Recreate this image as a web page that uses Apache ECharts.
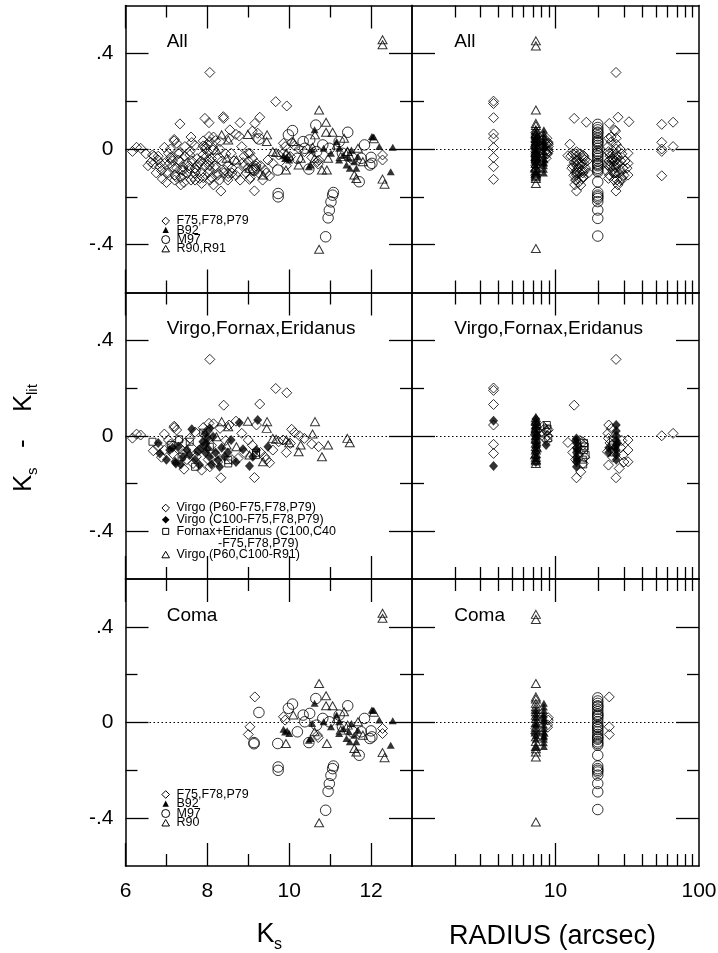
<!DOCTYPE html>
<html>
<head>
<meta charset="utf-8">
<script src="https://cdn.jsdelivr.net/npm/echarts@6/dist/echarts.min.js"></script>
<style>
  html, body { margin: 0; padding: 0; background: #fff; }
  #chart { width: 718px; height: 953px; }
</style>
</head>
<body>
<div id="chart"></div>
<script>
// ---------------------------------------------------------------
// Photometry residuals K_s - K_lit, against K_s (left column) and
// against the literature aperture radius in arcsec (right column).
// ---------------------------------------------------------------

// ---- Virgo / Fornax / Eridanus, residual vs K_s ----
const vfeP60Diamonds = [
  [6.17,-0.010],[6.27,0.007],[6.37,0.003],[6.68,-0.063],[6.80,-0.046],[6.88,-0.090],[6.95,0.007],
  [6.95,-0.060],[7.05,-0.018],[7.10,-0.035],[7.15,-0.075],[7.19,0.040],[7.19,0.034],[7.25,0.024],
  [7.30,-0.020],[7.33,-0.053],[7.40,-0.075],[7.43,-0.140],[7.45,-0.030],[7.50,-0.100],[7.57,-0.011],
  [7.62,-0.050],[7.65,-0.116],[7.70,0.015],[7.73,-0.088],[7.80,-0.060],[7.86,-0.144],[7.90,0.034],
  [7.95,0.000],[8.00,0.020],[8.02,-0.100],[8.04,0.052],[8.06,0.320],[8.06,-0.130],[8.10,-0.040],
  [8.15,0.050],[8.20,-0.080],[8.25,-0.110],[8.31,0.031],[8.33,-0.176],[8.40,0.128],[8.45,-0.020],
  [8.53,0.045],[8.60,-0.100],[8.70,0.061],[8.75,-0.095],[8.84,0.010],[8.90,-0.070],[9.00,-0.018],
  [9.10,-0.040],[9.15,-0.175],[9.20,0.045],[9.28,0.133],[9.30,-0.070],[9.40,-0.088],[9.44,-0.100],
  [9.52,-0.113],[9.60,-0.060],[9.67,0.198],[9.74,-0.025],[9.85,-0.018],[9.93,-0.070],[9.94,0.180],
  [10.03,-0.032],[10.06,0.027],[10.13,0.013],[10.25,0.000],[10.37,-0.011],[10.55,-0.035],[10.72,-0.046]
];
const vfeC100Diamonds = [
  [6.80,-0.030],[6.84,-0.074],[7.08,-0.060],[7.21,-0.109],[7.23,-0.116],[7.29,-0.046],[7.40,-0.090],
  [7.56,-0.081],[7.62,0.027],[7.76,-0.067],[7.81,-0.123],[7.89,-0.025],[7.95,-0.070],[7.97,-0.032],
  [8.00,-0.010],[8.01,-0.053],[8.05,-0.088],[8.06,0.031],[8.10,-0.120],[8.14,-0.004],[8.26,-0.102],
  [8.35,-0.050],[8.42,-0.088],[8.58,-0.018],[8.78,0.054],[8.87,-0.057],[9.03,-0.127],[9.11,-0.088],
  [9.23,0.066],[9.48,-0.046],[7.00,-0.100],[7.15,-0.050],[7.35,-0.120],[7.50,-0.060],[7.70,-0.100],
  [7.85,-0.050],[8.20,-0.070],[8.30,-0.130],[8.50,-0.070],[8.70,-0.110],[9.20,-0.060],[7.95,0.010]
];
const fornaxEridanusSquares = [
  [6.66,-0.025],[7.12,-0.039],[7.31,-0.015],[7.37,-0.088],[7.57,-0.025],[7.70,-0.130],[7.90,0.013],
  [8.06,-0.046],[8.51,-0.102],[8.51,-0.116],[9.19,-0.071],[9.19,-0.081]
];
const vfeR91Triangles = [
  [8.22,-0.004],[8.35,0.059],[8.47,-0.039],[8.51,0.038],[8.71,-0.046],[8.99,0.061],[9.03,-0.081],
  [9.36,-0.109],[9.45,0.031],[9.46,0.059],[9.60,-0.011],[9.68,-0.015],[9.93,-0.018],[10.00,-0.029],
  [10.23,-0.067],[10.28,-0.039],[10.57,0.007],[10.63,0.059],[10.80,-0.088],[10.95,-0.039],
  [11.42,-0.011],[11.48,-0.029]
];

// ---- Coma, residual vs K_s ----
const comaF75Diamonds = [
  [9.00,-0.050],[9.04,-0.018],[9.16,0.107],[9.86,0.024],[9.90,0.010],[10.69,-0.053],[10.71,-0.063],
  [12.28,-0.025],[12.28,-0.046]
];
const comaB92Triangles = [
  [9.86,-0.028],[9.90,-0.040],[9.95,-0.035],[10.00,-0.046],[10.48,-0.074],[10.52,-0.067],[10.56,-0.004],
  [10.62,0.080],[10.84,0.003],[11.02,-0.018],[11.16,0.031],[11.22,0.003],[11.22,-0.046],[11.32,-0.025],
  [11.40,-0.067],[11.46,-0.039],[11.48,-0.081],[11.52,-0.004],[11.59,-0.053],[11.64,-0.081],
  [11.68,-0.032],[12.02,0.052],[12.05,0.050],[12.20,0.010],[12.48,-0.095],[12.53,0.007]
];
const comaM97Circles = [
  [9.14,-0.084],[9.14,-0.089],[9.26,0.042],[9.72,-0.088],[9.73,-0.186],[9.73,-0.200],[9.98,0.059],
  [10.08,0.077],[10.20,-0.039],[10.34,0.031],[10.38,0.003],[10.48,-0.084],[10.50,0.038],[10.65,0.100],
  [10.67,-0.011],[10.82,0.017],[10.89,-0.367],[10.95,-0.288],[10.98,-0.256],[10.98,0.003],
  [11.02,-0.221],[11.06,-0.193],[11.08,-0.182],[11.22,0.031],[11.30,-0.018],[11.43,0.070],
  [11.55,-0.039],[11.71,-0.137],[11.76,-0.039],[11.84,0.017],[11.97,-0.067],[12.00,-0.035],[12.02,-0.060]
];
const comaR90Triangles = [
  [9.92,-0.088],[10.10,0.031],[10.62,-0.039],[10.73,0.163],[10.73,-0.419],[10.90,0.112],[10.90,0.070],
  [10.92,-0.088],[11.06,0.070],[11.16,0.017],[11.26,-0.032],[11.34,0.045],[11.43,-0.011],[11.59,-0.109],
  [11.64,-0.123],[11.68,0.003],[11.80,-0.053],[12.07,0.043],[12.28,0.457],[12.28,0.436],[12.28,-0.126],
  [12.33,-0.147]
];

// ---- galaxies outside the clusters (shown only in the "All" panels) ----
const fieldDiamonds = [
  [7.33,0.105],[7.94,0.128],[8.04,0.110],[8.39,0.135],[8.80,0.110],[6.50,-0.020],[6.62,-0.055],
  [6.75,-0.100],[6.90,-0.125],[7.00,-0.140],[7.20,-0.130],[7.35,-0.150],[7.55,-0.070],[7.75,-0.040],
  [7.85,-0.100],[8.15,-0.150],[8.30,0.000],[8.50,-0.130],[8.65,-0.050],[8.95,-0.100],[9.05,-0.120],
  [9.25,-0.100],[9.35,-0.130],[7.60,0.050],[8.55,0.080],[9.10,0.075],[7.10,0.000],[7.45,0.010],
  [8.20,0.035],[8.90,-0.030],[6.55,-0.070],[6.70,-0.030],[6.85,-0.060],[7.05,-0.100],[7.25,-0.080],
  [7.40,-0.110],[7.60,-0.130],[7.70,-0.080],[7.90,-0.120],[8.05,-0.070],[8.25,-0.040],[8.40,-0.100],
  [8.60,-0.080],[8.80,-0.130],[9.00,-0.080]
];

// ---- the same samples, residual vs aperture radius (arcsec) ----
const vfeP60DiamondsR = [
  [3.7,0.200],[3.7,0.190],[3.7,0.131],[3.7,0.045],[3.7,-0.036],[3.7,-0.074],
  [8.2,0.040],[8.4,0.030],[8.6,0.020],[8.3,0.010],[8.8,0.000],[8.5,-0.010],[8.9,0.025],[8.7,-0.020],
  [12.2,-0.028],[13.5,0.128],[14.0,-0.176],[15.0,-0.151],[15.5,-0.025],[15.6,-0.039],[15.6,-0.116],
  [15.2,-0.060],[14.5,-0.080],[13.8,-0.100],[14.2,-0.050],[16.0,-0.090],[13.2,-0.070],[14.8,-0.020],
  [23.5,0.045],[23.2,0.010],[23.4,-0.011],[23.0,-0.067],[23.4,-0.123],[26.4,-0.176],[27.8,-0.137],
  [26.4,0.320],[24.0,-0.030],[25.0,-0.090],[24.5,0.030],[28.5,-0.050],[29.0,-0.020],[29.5,-0.080],
  [30.0,-0.110],[32.0,-0.018],[32.0,-0.060],[32.0,-0.109],[55,0.000],[66,0.010]
];
const vfeC100DiamondsR = [
  [3.7,0.063],[3.7,-0.127],[8.6,-0.039],[14.0,-0.011],[14.0,-0.030],[14.0,-0.050],[14.0,-0.070],
  [14.0,-0.090],[14.0,-0.110],[14.0,-0.130],[13.8,-0.020],[14.2,-0.060],[14.1,-0.100],[26.5,0.045],
  [26.5,0.020],[26.5,0.000],[26.5,-0.020],[26.5,-0.040],[26.5,-0.060],[26.5,-0.080],[26.5,-0.100],
  [26.0,-0.050],[27.0,-0.030],[23.5,-0.050],[23.5,-0.070],[7.3,0.070],[7.3,0.050],[7.3,0.030],
  [7.3,0.010],[7.3,-0.010],[7.3,-0.030],[7.3,-0.050],[7.3,-0.070],[7.3,-0.090],[7.3,-0.110],
  [7.4,0.000],[7.4,-0.040]
];
const fornaxEridanusSquaresR = [
  [8.8,0.030],[8.9,-0.010],[15.8,-0.030],[15.8,-0.060],[16.2,-0.080],[15.5,-0.100],[25.0,-0.040],
  [25.5,-0.070],[16.0,-0.045],[25.2,-0.020],[8.7,0.045],[15.6,-0.120]
];
const vfeR91TrianglesR = [
  [7.3,0.075],[7.3,0.060],[7.3,0.045],[7.3,0.030],[7.3,0.015],[7.3,0.000],[7.3,-0.015],[7.3,-0.030],
  [7.3,-0.045],[7.3,-0.060],[7.3,-0.075],[7.3,-0.090],[7.3,-0.105],[7.3,-0.116],[7.2,0.020],
  [7.4,-0.050],[7.2,-0.080],[7.4,0.050],[7.3,0.065],[7.3,-0.100],[7.3,-0.010],[7.3,0.035]
];
const comaF75DiamondsR = [
  [23.7,0.107],[23.7,-0.018],[23.7,-0.050],[8.9,0.020],[8.8,-0.010],[8.9,0.010],[8.8,-0.020],
  [7.3,-0.025],[7.3,-0.046]
];
const comaB92TrianglesR = [
  [8.3,0.080],[8.3,0.065],[8.3,0.050],[8.3,0.035],[8.3,0.020],[8.3,0.005],[8.3,-0.010],[8.3,-0.025],
  [8.3,-0.040],[8.3,-0.055],[8.3,-0.070],[8.3,-0.085],[8.3,-0.100],[8.2,0.030],[8.4,-0.045],
  [8.3,0.010],[8.3,-0.060],[7.3,0.050],[7.3,0.020],[7.3,-0.010],[7.3,-0.040],[7.3,-0.070],
  [7.3,-0.100],[7.3,0.000],[7.3,-0.055],[7.3,0.035]
];
const comaM97CirclesR = [
  [19.7,0.103],[19.7,0.080],[19.7,0.066],[19.7,0.045],[19.7,0.030],[19.7,0.003],[19.7,-0.018],
  [19.7,-0.039],[19.7,-0.060],[19.7,-0.081],[19.7,-0.095],[19.7,-0.137],[19.7,-0.182],[19.7,-0.193],
  [19.7,-0.207],[19.7,-0.220],[19.7,-0.255],[19.7,-0.290],[19.7,-0.364],[19.7,0.055],[19.7,0.015],
  [19.7,-0.010],[19.7,-0.030],[19.7,-0.050],[19.7,-0.070],[19.7,0.090],[19.7,0.035],[19.7,-0.020],
  [19.7,-0.088],[19.7,0.025],[19.7,-0.065],[19.7,-0.200],[19.7,0.070]
];
const comaR90TrianglesR = [
  [7.3,0.452],[7.3,0.431],[7.3,0.163],[7.3,0.107],[7.3,0.098],[7.3,0.080],[7.3,0.066],[7.3,0.045],
  [7.3,0.030],[7.3,0.017],[7.3,0.000],[7.3,-0.020],[7.3,-0.040],[7.3,-0.060],[7.3,-0.080],
  [7.3,-0.100],[7.3,-0.123],[7.3,-0.144],[7.3,-0.416],[7.3,-0.110],[7.3,-0.030],[7.3,0.055]
];
const fieldDiamondsR = [
  [16.4,0.112],[27.3,0.133],[32.5,0.114],[55,0.103],[66,0.112],[3.7,0.006],[55,0.028],[55,-0.010],
  [55,-0.112],[13.2,-0.020],[13.5,-0.055],[14.8,-0.100],[15.2,-0.125],[14.5,-0.140],[13.8,-0.130],
  [13.6,-0.150],[24.2,-0.070],[25.2,-0.040],[26.0,-0.100],[27.2,-0.150],[28.2,0.000],[26.8,-0.130],
  [24.8,-0.050],[25.5,-0.100],[29.0,-0.120],[27.8,-0.100],[28.8,-0.130],[24.4,0.050],[25.8,0.080],
  [26.2,0.075],[12.8,-0.030],[13.0,-0.080],[13.4,-0.110],[14.6,-0.060],[15.4,-0.090],[16.6,-0.050],
  [17.0,-0.100],[12.6,0.020],[22.5,-0.090],[23.8,-0.110],[25.6,-0.130],[27.6,-0.060],[28.6,-0.090],
  [30.5,-0.050],[31.5,-0.080]
];

// ---- axis ticks and labels ----
const ksMajorTicks = [6, 8, 10, 12];
const ksMinorTicks = [7, 9, 11];
const radiusMajorTicks = [10];
const radiusTickLabels = [10, 100];
const radiusMinorTicks = [2, 3, 4, 5, 6, 7, 8, 9, 20, 30, 40, 50, 60, 70, 80, 90];
const residMajorTicks = [-0.4, 0, 0.4];
const residMinorTicks = [-0.2, 0.2];
const panelTitles = ['All', 'Virgo,Fornax,Eridanus', 'Coma'];

// ---- layout ----
const FONT = '"Liberation Sans", Arial, Helvetica, sans-serif';
const COLS = [{ left: 125.5, width: 286.5 }, { left: 412, width: 287 }];
const ROWS = [{ top: 5.5, height: 287 }, { top: 292.5, height: 286.5 }, { top: 579, height: 287 }];
const AXLINE = { color: '#000', width: 1.5 };
const TICKLINE = { color: '#000', width: 1.3 };
const MAJOR_LEN = 23, MINOR_LEN = 12;

function residLabel(v) {
  if (Math.abs(v) < 1e-9) return '0';
  return (v < 0 ? '-' : '') + String(Math.abs(+v.toFixed(2))).replace(/^0/, '');
}

const grids = [], xAxes = [], yAxes = [];
ROWS.forEach((row, r) => COLS.forEach((col, c) => {
  const gi = grids.length;
  grids.push({ left: col.left, top: row.top, width: col.width, height: row.height,
               containLabel: false, outerBoundsMode: 'none' });
  const isLog = c === 1;
  const xBase = isLog ? { type: 'log', logBase: 10, min: 1, max: 100 } : { type: 'value', min: 6, max: 13 };
  const xMajor = isLog ? radiusMajorTicks : ksMajorTicks;
  const xMinor = isLog ? radiusMinorTicks : ksMinorTicks;
  const xLabels = isLog ? radiusTickLabels : ksMajorTicks;
  ['bottom', 'top'].forEach(pos => {
    xAxes.push(Object.assign({}, xBase, {
      gridIndex: gi, position: pos,
      axisLine: { show: true, onZero: false, lineStyle: AXLINE },
      axisTick: { show: true, inside: true, length: MAJOR_LEN, customValues: xMajor, lineStyle: TICKLINE },
      axisLabel: { show: pos === 'bottom' && r === 2, customValues: xLabels, margin: 15,
                   fontSize: 21, color: '#000', fontFamily: FONT },
      splitLine: { show: false }, minorTick: { show: false }, minorSplitLine: { show: false }
    }));
    xAxes.push(Object.assign({}, xBase, {
      gridIndex: gi, position: pos,
      axisLine: { show: false, onZero: false },
      axisTick: { show: true, inside: true, length: MINOR_LEN, customValues: xMinor, lineStyle: TICKLINE },
      axisLabel: { show: false }, splitLine: { show: false }
    }));
  });
  ['left', 'right'].forEach(pos => {
    const yBase = { type: 'value', min: -0.6, max: 0.6, gridIndex: gi, position: pos };
    yAxes.push(Object.assign({}, yBase, {
      axisLine: { show: true, onZero: false, lineStyle: AXLINE },
      axisTick: { show: true, inside: true, length: MAJOR_LEN, customValues: residMajorTicks, lineStyle: TICKLINE },
      axisLabel: { show: pos === 'left' && c === 0, customValues: residMajorTicks, margin: 12,
                   fontSize: 21, color: '#000', fontFamily: FONT, formatter: residLabel },
      splitLine: { show: false }
    }));
    yAxes.push(Object.assign({}, yBase, {
      axisLine: { show: false, onZero: false },
      axisTick: { show: true, inside: true, length: MINOR_LEN, customValues: residMinorTicks, lineStyle: TICKLINE },
      axisLabel: { show: false }, splitLine: { show: false }
    }));
  });
}));

// ---- marker styles ----
const HOLLOW = { color: 'rgba(0,0,0,0)', borderColor: '#000', borderWidth: 1 };
const FILLED = { color: '#000', borderWidth: 0 };
const MARK = {
  openDiamond:  { symbol: 'diamond',  symbolSize: [10, 10], itemStyle: HOLLOW },
  fillDiamond:  { symbol: 'diamond',  symbolSize: [9, 10],  itemStyle: FILLED },
  openSquare:   { symbol: 'rect',     symbolSize: 7,        itemStyle: HOLLOW },
  openTriangle: { symbol: 'triangle', symbolSize: [9, 8],   itemStyle: HOLLOW },
  fillTriangle: { symbol: 'triangle', symbolSize: [8, 7],   itemStyle: FILLED },
  openCircle:   { symbol: 'circle',   symbolSize: 10.5,     itemStyle: HOLLOW }
};

const series = [];
function scatter(gi, name, data, kind) {
  series.push(Object.assign({
    type: 'scatter', name, data, xAxisIndex: gi * 4, yAxisIndex: gi * 4,
    silent: true, animation: false, emphasis: { disabled: true }
  }, MARK[kind]));
}
function zeroLine(gi) {
  series.push({
    type: 'scatter', data: [], xAxisIndex: gi * 4, yAxisIndex: gi * 4, silent: true,
    markLine: { silent: true, symbol: ['none', 'none'], label: { show: false }, animation: false,
                lineStyle: { type: [1.5, 2.5], color: '#000', width: 1 }, data: [{ yAxis: 0 }] }
  });
}

// All (K_s) and All (radius)
[[0, [vfeP60Diamonds, vfeC100Diamonds, fornaxEridanusSquares, comaF75Diamonds, fieldDiamonds],
      comaB92Triangles, comaM97Circles, [vfeR91Triangles, comaR90Triangles]],
 [1, [vfeP60DiamondsR, vfeC100DiamondsR, fornaxEridanusSquaresR, comaF75DiamondsR, fieldDiamondsR],
      comaB92TrianglesR, comaM97CirclesR, [vfeR91TrianglesR, comaR90TrianglesR]]
].forEach(([gi, dia, b92, m97, tri]) => {
  zeroLine(gi);
  scatter(gi, 'F75,F78,P79', [].concat(...dia), 'openDiamond');
  scatter(gi, 'B92', b92, 'fillTriangle');
  scatter(gi, 'M97', m97, 'openCircle');
  scatter(gi, 'R90,R91', [].concat(...tri), 'openTriangle');
});

// Virgo, Fornax, Eridanus
[[2, vfeP60Diamonds, vfeC100Diamonds, fornaxEridanusSquares, vfeR91Triangles],
 [3, vfeP60DiamondsR, vfeC100DiamondsR, fornaxEridanusSquaresR, vfeR91TrianglesR]
].forEach(([gi, p60, c100, fe, r91]) => {
  zeroLine(gi);
  scatter(gi, 'Virgo (P60-F75,F78,P79)', p60, 'openDiamond');
  scatter(gi, 'Virgo (C100-F75,F78,P79)', c100, 'fillDiamond');
  scatter(gi, 'Fornax+Eridanus (C100,C40-F75,F78,P79)', fe, 'openSquare');
  scatter(gi, 'Virgo (P60,C100-R91)', r91, 'openTriangle');
});

// Coma
[[4, comaF75Diamonds, comaB92Triangles, comaM97Circles, comaR90Triangles],
 [5, comaF75DiamondsR, comaB92TrianglesR, comaM97CirclesR, comaR90TrianglesR]
].forEach(([gi, dia, b92, m97, r90]) => {
  zeroLine(gi);
  scatter(gi, 'F75,F78,P79', dia, 'openDiamond');
  scatter(gi, 'B92', b92, 'fillTriangle');
  scatter(gi, 'M97', m97, 'openCircle');
  scatter(gi, 'R90', r90, 'openTriangle');
});

// ---- text and key graphics ----
function text(x, y, str, size, extra) {
  return Object.assign({
    type: 'text', x, y, silent: true,
    style: { text: str, fill: '#000', font: size + 'px ' + FONT,
             align: 'left', verticalAlign: 'middle', textAlign: 'left', textVerticalAlign: 'middle' }
  }, extra || {});
}
function keySymbol(kind, cx, cy) {
  const s = 3.8;
  const stroke = { stroke: '#000', lineWidth: 1, fill: 'none' };
  const fill = { fill: '#000' };
  switch (kind) {
    case 'openDiamond': return { type: 'polygon', silent: true, shape: { points: [[cx, cy - s], [cx + s, cy], [cx, cy + s], [cx - s, cy]] }, style: stroke };
    case 'fillDiamond': return { type: 'polygon', silent: true, shape: { points: [[cx, cy - s], [cx + s, cy], [cx, cy + s], [cx - s, cy]] }, style: fill };
    case 'openSquare': return { type: 'rect', silent: true, shape: { x: cx - 3, y: cy - 3, width: 6, height: 6 }, style: stroke };
    case 'openTriangle': return { type: 'polygon', silent: true, shape: { points: [[cx, cy - 3.5], [cx + 3.8, cy + 3], [cx - 3.8, cy + 3]] }, style: stroke };
    case 'fillTriangle': return { type: 'polygon', silent: true, shape: { points: [[cx, cy - 3.5], [cx + 3.2, cy + 2.8], [cx - 3.2, cy + 2.8]] }, style: fill };
    case 'openCircle': return { type: 'circle', silent: true, shape: { cx, cy, r: 4 }, style: stroke };
  }
}
const keys = [
  { row: 0, gap: 9.3, items: [['openDiamond', 'F75,F78,P79'], ['fillTriangle', 'B92'], ['openCircle', 'M97'], ['openTriangle', 'R90,R91']] },
  { row: 1, gap: 11.7, items: [['openDiamond', 'Virgo (P60-F75,F78,P79)'], ['fillDiamond', 'Virgo (C100-F75,F78,P79)'],
                               ['openSquare', 'Fornax+Eridanus (C100,C40'], [null, '-F75,F78,P79)'], ['openTriangle', 'Virgo (P60,C100-R91)']] },
  { row: 2, gap: 9.5, items: [['openDiamond', 'F75,F78,P79'], ['fillTriangle', 'B92'], ['openCircle', 'M97'], ['openTriangle', 'R90']] }
];

const elements = [];
keys.forEach(k => {
  const y0 = ROWS[k.row].top + 215.5;
  k.items.forEach(([kind, label], i) => {
    const cy = y0 + i * k.gap;
    if (kind) elements.push(keySymbol(kind, 165.7, cy));
    elements.push(text(kind ? 176.5 : 218, cy, label, 12.5));
  });
});
ROWS.forEach((row, r) => {
  elements.push(text(166.7, row.top + 36.5, panelTitles[r], 19));
  elements.push(text(454.3, row.top + 36.5, panelTitles[r], 19));
});
// axis titles
elements.push(text(256.5, 935, 'K', 27));
elements.push(text(274, 945, 's', 16));
elements.push(text(449, 936.5, 'RADIUS (arcsec)', 27));
elements.push({
  type: 'group', x: 24, y: 0, rotation: Math.PI / 2, silent: true,
  children: [
    text(-492, 0, 'K', 26),
    text(-475, 9, 's', 15),
    text(-448, -1, '-', 26),
    text(-412, 0, 'K', 26),
    text(-395, 9, 'lit', 15)
  ]
});

const chart = echarts.init(document.getElementById('chart'), null, { renderer: 'canvas' });
chart.setOption({
  animation: false,
  backgroundColor: '#fff',
  grid: grids,
  xAxis: xAxes,
  yAxis: yAxes,
  series,
  graphic: { elements }
});
</script>
</body>
</html>
